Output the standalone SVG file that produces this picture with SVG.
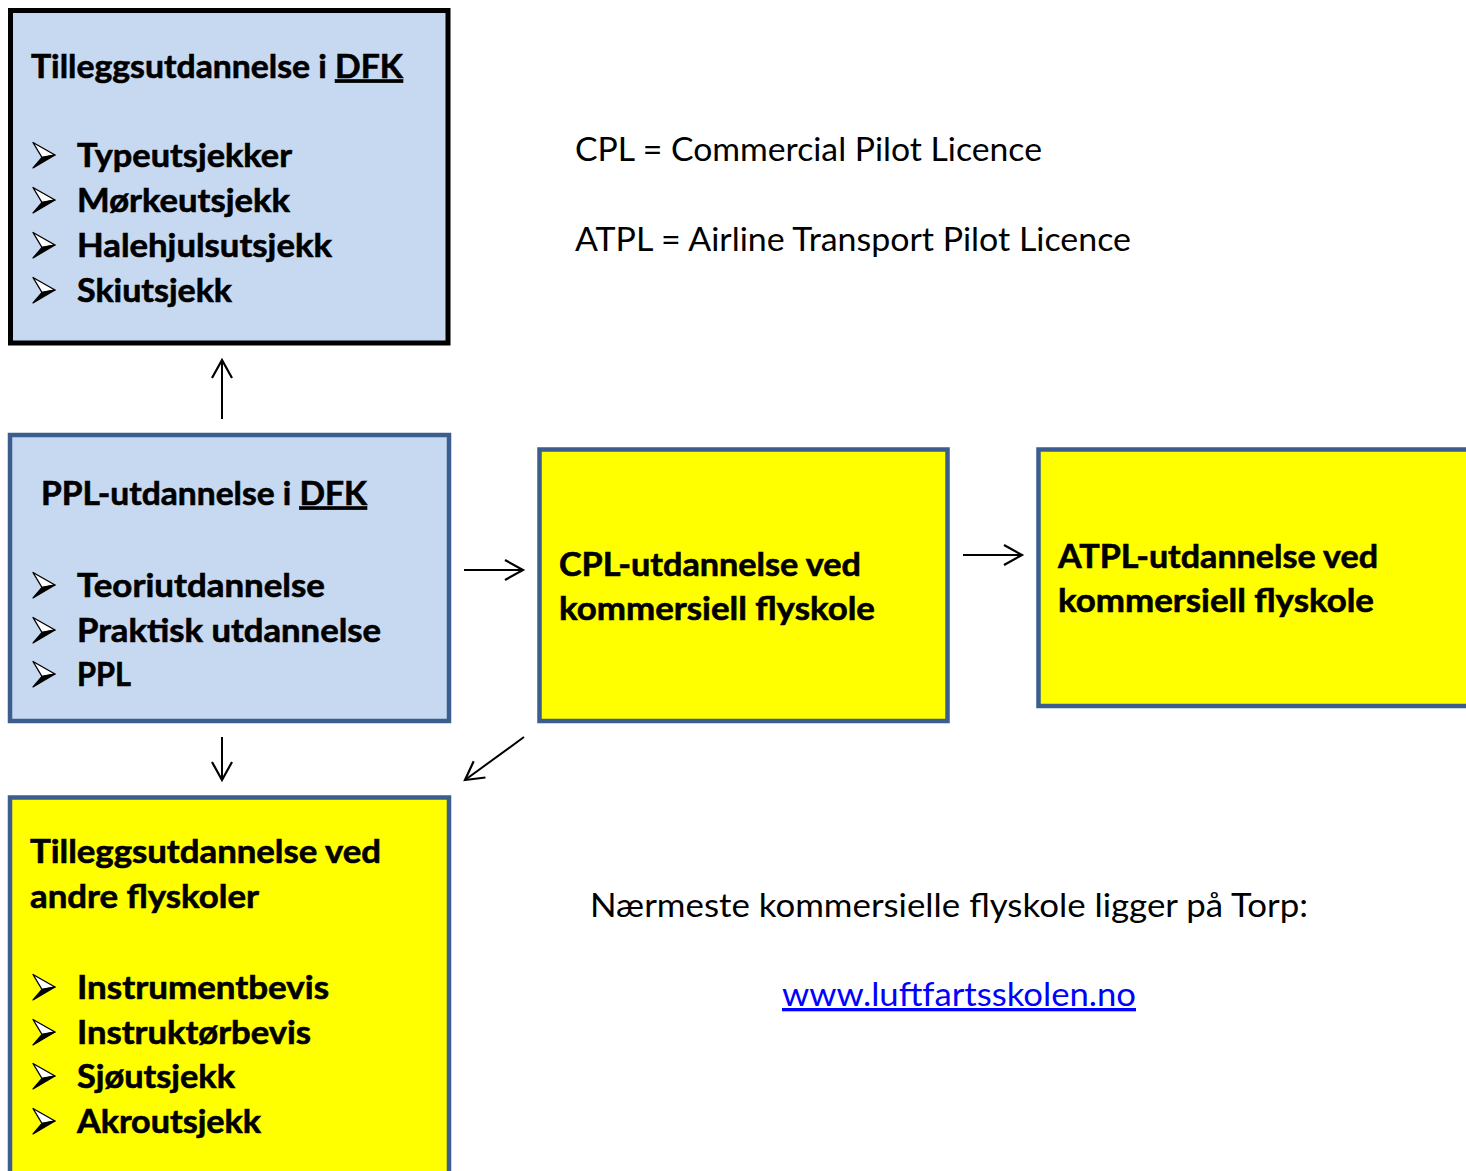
<svg xmlns="http://www.w3.org/2000/svg" width="1466" height="1171" viewBox="0 0 1466 1171">
<style>
.bt{font-family:Lato,"Liberation Sans",sans-serif;font-weight:bold;font-size:32px;fill:#000;stroke:#000;stroke-width:0.6px}
.rt{font-family:Lato,"Liberation Sans",sans-serif;font-size:33px;fill:#000}
.blue{fill:#C6D9F1}
.yel{fill:#FFFF00}
.edge{stroke:#3B5E8E;stroke-width:4.5}
.conn line{stroke:#000;stroke-width:2;marker-end:url(#ah)}
</style>
<defs>
<marker id="ah" markerUnits="userSpaceOnUse" markerWidth="24" markerHeight="26" refX="20" refY="12" orient="auto">
<path d="M2,2 L20,12 L2,22" fill="none" stroke="#000" stroke-width="2.2"/>
</marker>
<g id="bul">
<polygon points="0,-12.5 22,0 9,2.5" fill="#fff" stroke="#000" stroke-width="1.4" stroke-linejoin="round"/>
<polygon points="22,0 9,2.5 0,13" fill="#000" stroke="#000" stroke-width="1.2" stroke-linejoin="round"/>
</g>
</defs>
<rect width="1466" height="1171" fill="#fff"/>

<g id="node-dfk-tillegg">
<rect x="10.5" y="10.5" width="437.5" height="332.5" class="blue" stroke="#000" stroke-width="5"/>
<text class="bt" x="31" y="77.5" textLength="372" lengthAdjust="spacingAndGlyphs">Tilleggsutdannelse i <tspan text-decoration="underline">DFK</tspan></text>
<use href="#bul" x="33" y="155"/>
<text class="bt" x="77" y="167" textLength="215" lengthAdjust="spacingAndGlyphs">Typeutsjekker</text>
<use href="#bul" x="33" y="200"/>
<text class="bt" x="77" y="212" textLength="213" lengthAdjust="spacingAndGlyphs">Mørkeutsjekk</text>
<use href="#bul" x="33" y="245"/>
<text class="bt" x="77" y="257" textLength="255" lengthAdjust="spacingAndGlyphs">Halehjulsutsjekk</text>
<use href="#bul" x="33" y="290"/>
<text class="bt" x="77" y="302" textLength="155" lengthAdjust="spacingAndGlyphs">Skiutsjekk</text>
</g>

<g id="node-ppl">
<rect x="10" y="435" width="439" height="286" class="blue edge"/>
<text class="bt" x="41" y="504.5" textLength="326" lengthAdjust="spacingAndGlyphs">PPL-utdannelse i <tspan text-decoration="underline">DFK</tspan></text>
<use href="#bul" x="33" y="585"/>
<text class="bt" x="77" y="597" textLength="248" lengthAdjust="spacingAndGlyphs">Teoriutdannelse</text>
<use href="#bul" x="33" y="630"/>
<text class="bt" x="77" y="642" textLength="304" lengthAdjust="spacingAndGlyphs">Praktisk utdannelse</text>
<use href="#bul" x="33" y="674"/>
<text class="bt" x="77" y="686" textLength="54" lengthAdjust="spacingAndGlyphs">PPL</text>
</g>

<g id="node-cpl">
<rect x="539.5" y="449.5" width="408" height="271.5" class="yel edge"/>
<text class="bt" x="559" y="576" textLength="302" lengthAdjust="spacingAndGlyphs">CPL-utdannelse ved</text>
<text class="bt" x="559" y="620" textLength="316" lengthAdjust="spacingAndGlyphs">kommersiell flyskole</text>
</g>

<g id="node-atpl">
<rect x="1038.5" y="449.5" width="460" height="256.5" class="yel edge"/>
<text class="bt" x="1058" y="568" textLength="320" lengthAdjust="spacingAndGlyphs">ATPL-utdannelse ved</text>
<text class="bt" x="1058" y="612" textLength="316" lengthAdjust="spacingAndGlyphs">kommersiell flyskole</text>
</g>

<g id="node-andre">
<rect x="10" y="797.5" width="439" height="420" class="yel edge"/>
<text class="bt" x="30" y="863" textLength="351" lengthAdjust="spacingAndGlyphs">Tilleggsutdannelse ved</text>
<text class="bt" x="30" y="908" textLength="229" lengthAdjust="spacingAndGlyphs">andre flyskoler</text>
<use href="#bul" x="33" y="987"/>
<text class="bt" x="77" y="999" textLength="252" lengthAdjust="spacingAndGlyphs">Instrumentbevis</text>
<use href="#bul" x="33" y="1032"/>
<text class="bt" x="77" y="1044" textLength="234" lengthAdjust="spacingAndGlyphs">Instruktørbevis</text>
<use href="#bul" x="33" y="1076"/>
<text class="bt" x="77" y="1088" textLength="158" lengthAdjust="spacingAndGlyphs">Sjøutsjekk</text>
<use href="#bul" x="33" y="1121"/>
<text class="bt" x="77" y="1133" textLength="184" lengthAdjust="spacingAndGlyphs">Akroutsjekk</text>
</g>

<g id="legend">
<text class="rt" x="575" y="161" textLength="467" lengthAdjust="spacingAndGlyphs">CPL = Commercial Pilot Licence</text>
<text class="rt" x="575" y="251" textLength="556" lengthAdjust="spacingAndGlyphs">ATPL = Airline Transport Pilot Licence</text>
</g>

<g id="note">
<text class="rt" x="590" y="917" textLength="718" lengthAdjust="spacingAndGlyphs">Nærmeste kommersielle flyskole ligger på Torp:</text>
<text class="rt" x="782" y="1006" textLength="354" lengthAdjust="spacingAndGlyphs" style="fill:#0000FF" text-decoration="underline">www.luftfartsskolen.no</text>
</g>

<g id="connectors" class="conn">
<line x1="222" y1="419" x2="222" y2="360"/>
<line x1="464" y1="570" x2="523" y2="570"/>
<line x1="963" y1="555" x2="1022" y2="555"/>
<line x1="222" y1="737" x2="222" y2="780"/>
<line x1="524" y1="737" x2="465" y2="780"/>
</g>
</svg>
